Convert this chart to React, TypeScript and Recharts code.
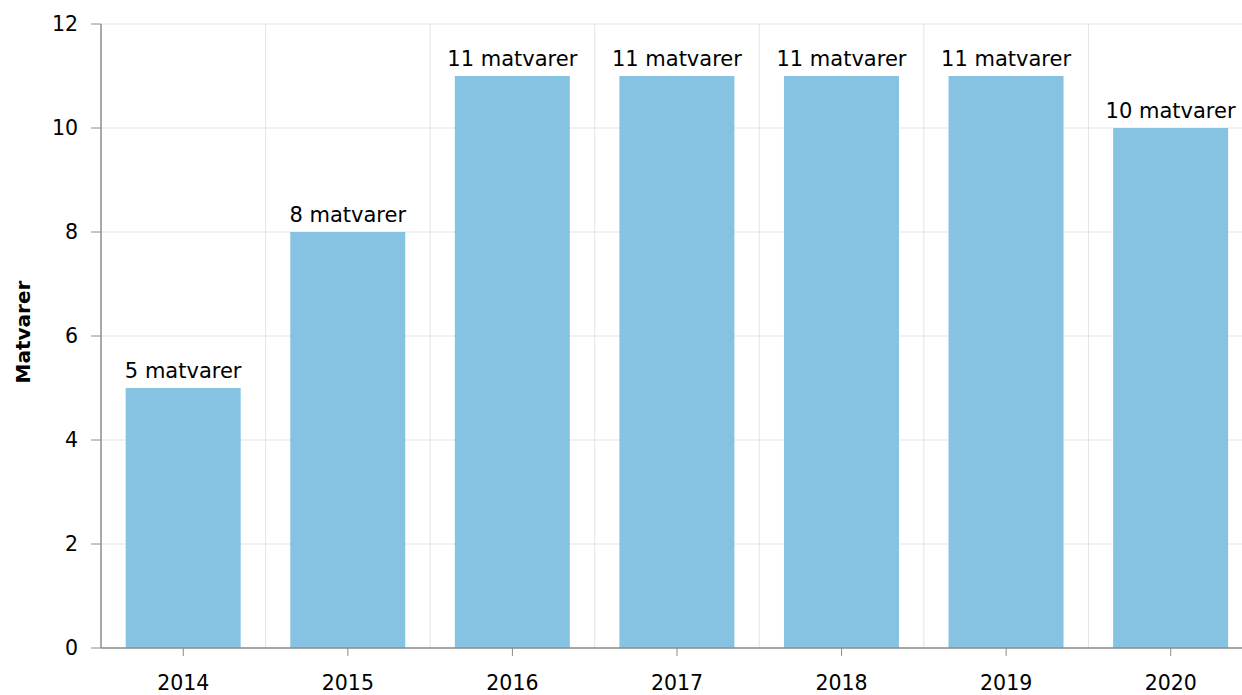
import React from 'react';
import { BarChart, Bar, XAxis, YAxis, CartesianGrid, LabelList } from 'recharts';

const years = ['2014', '2015', '2016', '2017', '2018', '2019', '2020'];
const counts = [5, 8, 11, 11, 11, 11, 10];
const yTicks = [0, 2, 4, 6, 8, 10, 12];
const unitLabel = 'matvarer';
const yAxisTitle = 'Matvarer';

const data = years.map((y, i) => ({ year: y, value: counts[i] }));

const FONT = '"DejaVu Sans", Verdana, sans-serif';

const YTitle = (props: any) => {
  const vb = props.viewBox || {};
  const cx = 30;
  const cy = vb.y + vb.height / 2 - 4;
  return (
    <text
      x={cx}
      y={cy}
      transform={`rotate(-90, ${cx}, ${cy})`}
      textAnchor="middle"
      fontFamily={FONT}
      fontSize={20}
      fontWeight="bold"
      fill="#000"
    >
      {yAxisTitle}
    </text>
  );
};

export default function App() {
  return (
    <div style={{ position: 'absolute', left: 0, top: 0, width: 1242, height: 695, overflow: 'hidden', background: '#fff' }}>
      <BarChart
        width={1253}
        height={695}
        data={data}
        margin={{ top: 24, right: 0, bottom: 17, left: 0 }}
        barCategoryGap="15%"
      >
        <CartesianGrid
          stroke="#e3e3e3"
          verticalCoordinatesGenerator={({ offset }: any) =>
            years.map((_, k) => offset.left + ((k + 1) * offset.width) / years.length)
          }
        />
        <XAxis
          dataKey="year"
          height={30}
          axisLine={{ stroke: '#8c8c8c', strokeWidth: 1.5 }}
          tickLine={{ stroke: '#8c8c8c' }}
          tickSize={8}
          tickMargin={19}
          tick={{ fill: '#000', fontSize: 20.5, fontFamily: FONT }}
          interval={0}
        />
        <YAxis
          width={101}
          domain={[0, 12]}
          ticks={yTicks}
          axisLine={{ stroke: '#8c8c8c', strokeWidth: 1.5 }}
          tickLine={{ stroke: '#8c8c8c' }}
          tickSize={10}
          tickMargin={13}
          tick={{ fill: '#000', fontSize: 20.5, fontFamily: FONT }}
          label={<YTitle />}
        />
        <Bar dataKey="value" fill="#86C3E2" isAnimationActive={false}>
          <LabelList
            dataKey="value"
            position="top"
            offset={10}
            formatter={(v: any) => `${v} ${unitLabel}`}
            style={{ fill: '#000', fontSize: 21, fontFamily: FONT }}
          />
        </Bar>
      </BarChart>
    </div>
  );
}
